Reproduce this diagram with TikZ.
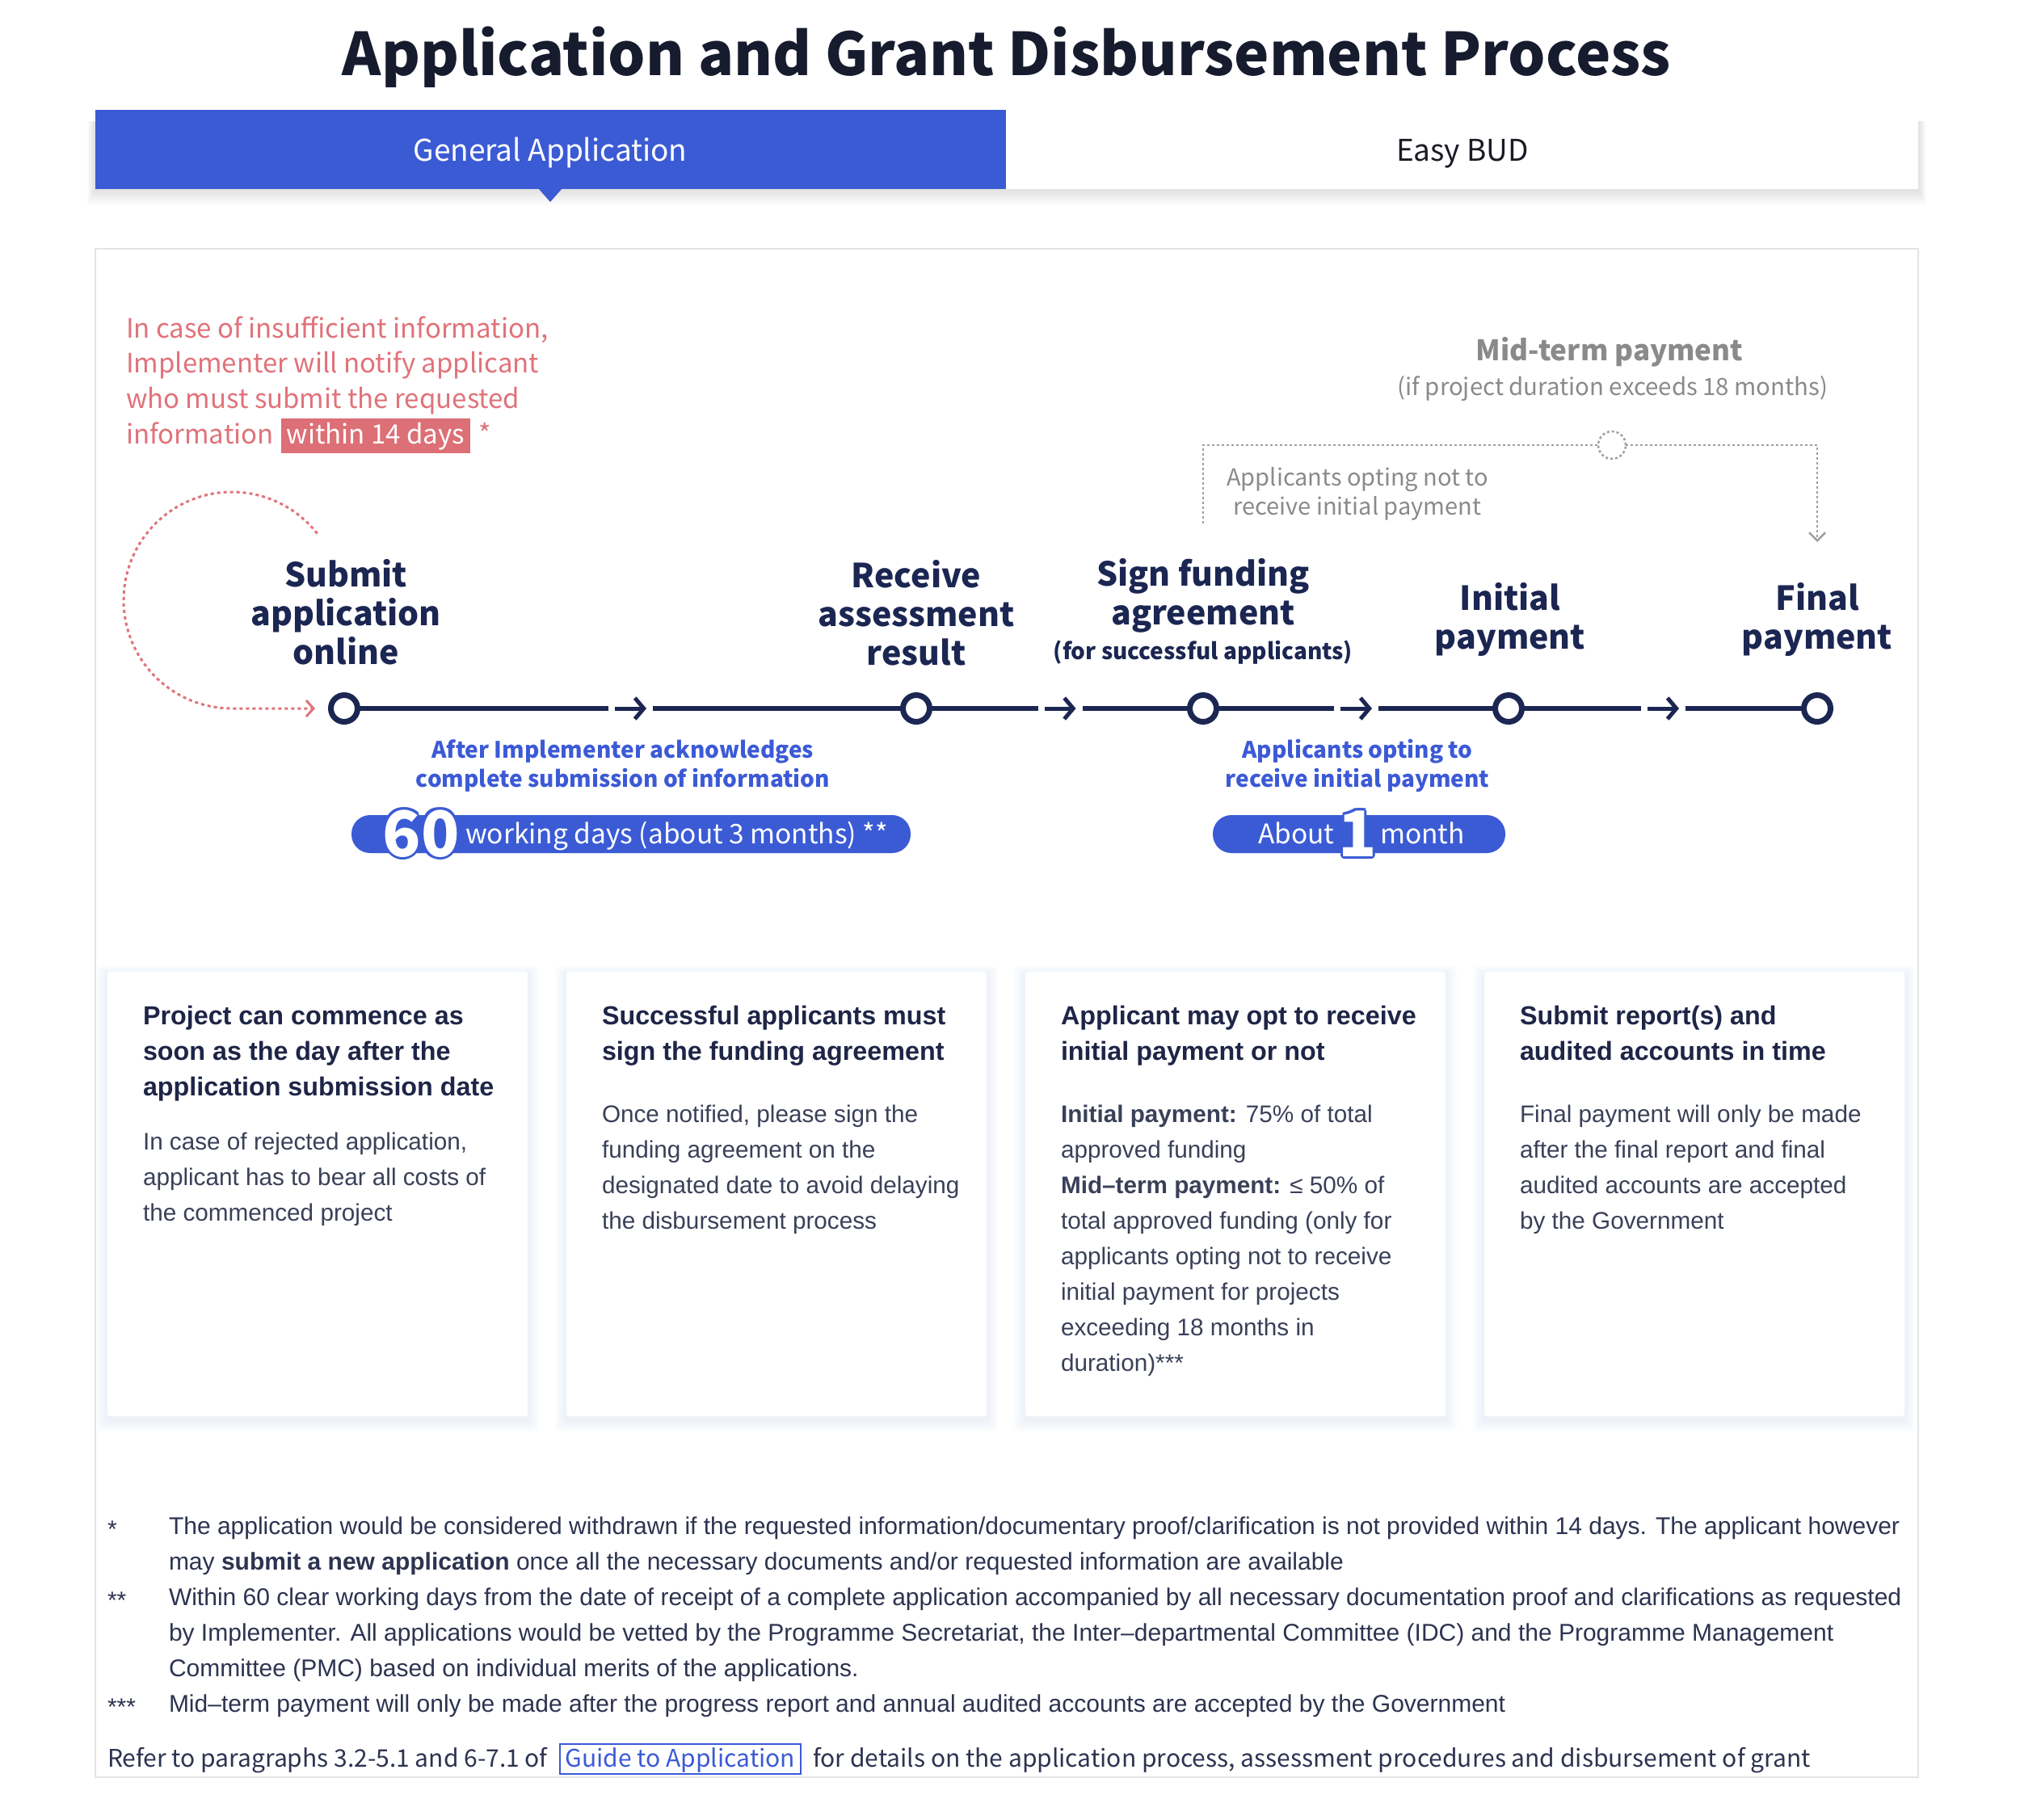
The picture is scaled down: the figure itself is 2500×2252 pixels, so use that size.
\documentclass[tikz,border=0pt]{standalone}
\usepackage{fontspec}
\setmainfont{Liberation Sans}
\newfontfamily\src{Noto Sans CJK SC}
\usetikzlibrary{arrows.meta,calc}
\definecolor{tabblue}{HTML}{3B5BD5}
\definecolor{lblblue}{HTML}{3C5AD6}
\definecolor{navy}{HTML}{1B2652}
\definecolor{titlec}{HTML}{171B2E}
\definecolor{redc}{HTML}{E0737A}
\definecolor{redbox}{HTML}{DD6F76}
\definecolor{grayt}{HTML}{8A8A8A}
\definecolor{grayline}{HTML}{9E9E9E}
\definecolor{cardnavy}{HTML}{1E2547}
\definecolor{cardtext}{HTML}{3A4058}
\definecolor{footc}{HTML}{2D3350}
\definecolor{panelb}{HTML}{E4E4E4}
\definecolor{shadowc}{HTML}{B9C1E4}
\definecolor{easyc}{HTML}{1B1B25}
\newcommand\halo[2]{%
\rlap{\textcolor{#1}{\kern-3pt#2}}%
\rlap{\textcolor{#1}{\kern3pt#2}}%
\rlap{\textcolor{#1}{\raisebox{3pt}{#2}}}%
\rlap{\textcolor{#1}{\raisebox{-3pt}{#2}}}%
\rlap{\textcolor{#1}{\kern-2.1pt\raisebox{2.1pt}{#2}}}%
\rlap{\textcolor{#1}{\kern2.1pt\raisebox{2.1pt}{#2}}}%
\rlap{\textcolor{#1}{\kern-2.1pt\raisebox{-2.1pt}{#2}}}%
\rlap{\textcolor{#1}{\kern2.1pt\raisebox{-2.1pt}{#2}}}%
#2}
\begin{document}
\begin{tikzpicture}[x=1pt,y=-1pt,
  every node/.style={inner sep=0pt,outer sep=0pt},
  ttl/.style={font=\src\bfseries\fontsize{73}{88}\selectfont,text=titlec,anchor=base},
  tabtxt/.style={font=\src\fontsize{37}{44}\selectfont,anchor=base},
  redtxt/.style={font=\src\fontsize{33}{40}\selectfont,text=redc,anchor=base west},
  stepname/.style={font=\src\bfseries\fontsize{41}{50}\selectfont,text=navy,anchor=base},
  stepsub/.style={font=\src\bfseries\fontsize{28}{34}\selectfont,text=navy,anchor=base},
  bluelbl/.style={font=\src\bfseries\fontsize{28}{34}\selectfont,text=lblblue,anchor=base},
  pilltxt/.style={font=\src\fontsize{33.5}{40}\selectfont,text=white,anchor=base west},
  bignum/.style={font=\src\bfseries\fontsize{78}{80}\selectfont,text=white,anchor=base},
  midtitle/.style={font=\src\bfseries\fontsize{35}{42}\selectfont,text=grayt,anchor=base},
  midsub/.style={font=\src\fontsize{29.4}{36}\selectfont,text=grayt,anchor=base},
  cardttl/.style={font=\fontsize{32.3}{38}\selectfont\bfseries,text=cardnavy,anchor=base west},
  cardbody/.style={font=\fontsize{29.7}{35}\selectfont,text=cardtext,anchor=base west},
  foottxt/.style={font=\fontsize{30}{36}\selectfont,text=footc,anchor=base west},
  reftxt/.style={font=\src\fontsize{30}{36}\selectfont,text=footc,anchor=base west},
  stepdot/.style={circle,draw=navy,line width=7pt,fill=white,minimum size=33pt},
  tl/.style={draw=navy,line width=6pt},
  tlarr/.style={draw=navy,line width=5pt,-{Straight Barb[length=11pt,width=26pt]}},
  reddot/.style={draw=redc,line width=3pt,dash pattern=on 4pt off 4pt},
  graydot/.style={draw=grayline,line width=2.5pt,dash pattern=on 3pt off 3pt}
]
\path[use as bounding box,fill=white] (0,0) rectangle (2500,2252);

% title
\node[ttl] (title) at (1246,93) {Application and Grant Disbursement Process};

% tab bar
\foreach \k in {1,...,10} \fill[black,opacity=0.012] (118-\k,150) rectangle (2374+\k,234+2*\k);
\fill[white] (118,136) rectangle (2374,234);
\fill[tabblue] (118,136) rectangle (1245,234);
\fill[tabblue] (666,233) -- (696,233) -- (681,250) -- cycle;
\node[tabtxt,text=white] (tabga) at (681,199) {General Application};
\node[tabtxt,text=easyc] (tabeb) at (1810,199) {Easy BUD};

% panel
\draw[panelb,line width=2pt,fill=white] (118,308) rectangle (2374,2200);

% red note
\node[redtxt] (r1) at (156,418) {In case of insufficient information,};
\node[redtxt] (r2) at (156,461) {Implementer will notify applicant};
\node[redtxt] (r3) at (156,505) {who must submit the requested};
\node[redtxt] (r4a) at (156,549) {information};
\node[redtxt,text=white,fill=redbox,inner xsep=7pt,text height=31pt,text depth=12pt] (r4b) at ([xshift=9pt]r4a.base east) {within 14 days};
\node[redtxt] (r4c) at ([xshift=11pt]r4b.base east) {*};

% timeline
\foreach \n/\x in {c1/426,c2/1134,c3/1489,c4/1867,c5/2249} \node[stepdot] (\n) at (\x,877) {};
\foreach \a/\b/\m in {c1/c2/m1,c2/c3/m2,c3/c4/m3,c4/c5/m4}{
  \coordinate (\m) at ($(\a)!0.5!(\b)$);
  \draw[tl] (\a) -- ([xshift=-27pt]\m);
  \draw[tlarr] ([xshift=-19pt]\m) -- ([xshift=20pt]\m);
  \draw[tl] ([xshift=28pt]\m) -- (\b);
}

% red loop
\coordinate (redend) at (390,877);
\draw[reddot,-{Straight Barb[length=9pt,width=20pt]}] plot[smooth,domain=0:232,samples=60] ({287+134*cos(-38-\x)},{743+134*sin(-38-\x)}) -- (redend);

% step labels
\node[stepname] (s1a) at (428,726) {Submit};
\node[stepname] (s1b) at (428,774) {application};
\node[stepname] (s1c) at (428,822) {online};
\node[stepname] (s2a) at (1134,727) {Receive};
\node[stepname] (s2b) at (1134,775) {assessment};
\node[stepname] (s2c) at (1134,823) {result};
\node[stepname] (s3a) at (1489,725) {Sign funding};
\node[stepname] (s3b) at (1489,773) {agreement};
\node[stepsub] (s3c) at (1489,816) {(for successful applicants)};
\node[stepname] (s4a) at (1869,755) {Initial};
\node[stepname] (s4b) at (1869,803) {payment};
\node[stepname] (s5a) at (2249,755) {Final};
\node[stepname] (s5b) at (2249,803) {payment};

% blue labels
\node[bluelbl] (b1a) at (771,938) {After Implementer acknowledges};
\node[bluelbl] (b1b) at (771,974) {complete submission of information};
\node[bluelbl] (b2a) at (1680,938) {Applicants opting to};
\node[bluelbl] (b2b) at (1680,974) {receive initial payment};

% pills
\fill[tabblue,rounded corners=23pt] (435,1009) rectangle (1127,1056);
\fill[tabblue,rounded corners=23pt] (1501,1009) rectangle (1863,1056);
\node[bignum] (n60) at (521,1060) {\halo{tabblue}{60}};
\node[pilltxt] (p1t) at (576,1044) {working days (about 3 months) **};
\node[pilltxt] (p2a) at (1557,1044) {About};
\node[bignum] (n1) at (1680,1060) {\halo{tabblue}{1}};
\node[pilltxt] (p2b) at (1708,1044) {month};

% mid-term
\node[midtitle] (mt) at (1992,446) {Mid-term payment};
\node[midsub] (ms) at (1996,489) {(if project duration exceeds 18 months)};
\node[midsub,font=\src\fontsize{29}{35}\selectfont] (na1) at (1680,601) {Applicants opting not to};
\node[midsub,font=\src\fontsize{29}{35}\selectfont] (na2) at (1680,637) {receive initial payment};
\node[circle,draw=grayline,line width=2.5pt,dash pattern=on 3pt off 3pt,minimum size=34pt] (mc) at (1995,551) {};
\coordinate (bl) at (1489,648);
\coordinate (br) at (2249,671);
\draw[graydot] (bl) |- (mc.west);
\draw[graydot,-{Straight Barb[length=10pt,width=20pt]}] (mc.east) -| (br);

% cards
\foreach \cx in {133,701,1269,1837}{
  \foreach \k in {1,...,7} \fill[shadowc,opacity=0.03,rounded corners=4pt] (\cx-2*\k,1203-1.5*\k+3) rectangle (\cx+520+2*\k,1753+2*\k+5);
  \fill[white,rounded corners=3pt] (\cx,1203) rectangle (\cx+520,1753);
}
\foreach \t [count=\i] in {Project can commence as,soon as the day after the,application submission date}
  \node[cardttl] (k1t\i) at (177,1224+44*\i) {\t};
\foreach \t [count=\i] in {{In case of rejected application,},applicant has to bear all costs of,the commenced project}
  \node[cardbody] (k1b\i) at (177,1379+44*\i) {\t};
\foreach \t [count=\i] in {Successful applicants must,sign the funding agreement}
  \node[cardttl] (k2t\i) at (745,1224+44*\i) {\t};
\foreach \t [count=\i] in {{Once notified, please sign the},funding agreement on the,designated date to avoid delaying,the disbursement process}
  \node[cardbody] (k2b\i) at (745,1345+44*\i) {\t};
\foreach \t [count=\i] in {Applicant may opt to receive,initial payment or not}
  \node[cardttl] (k3t\i) at (1313,1224+44*\i) {\t};
\foreach \t [count=\i] in {{\textbf{Initial payment:} 75\% of total},approved funding,{\textbf{Mid–term payment:} ≤ 50\% of},total approved funding (only for,applicants opting not to receive,initial payment for projects,exceeding 18 months in,duration)***}
  \node[cardbody] (k3b\i) at (1313,1345+44*\i) {\t};
\foreach \t [count=\i] in {Submit report(s) and,audited accounts in time}
  \node[cardttl] (k4t\i) at (1881,1224+44*\i) {\t};
\foreach \t [count=\i] in {Final payment will only be made,after the final report and final,audited accounts are accepted,by the Government}
  \node[cardbody] (k4b\i) at (1881,1345+44*\i) {\t};

% footnotes
\node[foottxt] (st1) at (133,1903) {*};
\node[foottxt] (st2) at (133,1991) {**};
\node[foottxt] (st3) at (133,2123) {***};
\foreach \t [count=\i] in {{The application would be considered withdrawn if the requested information/documentary proof/clarification is not provided within 14 days. The applicant however},{may \textbf{submit a new application} once all the necessary documents and/or requested information are available},{Within 60 clear working days from the date of receipt of a complete application accompanied by all necessary documentation proof and clarifications as requested},{by Implementer. All applications would be vetted by the Programme Secretariat, the Inter–departmental Committee (IDC) and the Programme Management},{Committee (PMC) based on individual merits of the applications.},{Mid–term payment will only be made after the progress report and annual audited accounts are accepted by the Government}}
  \node[foottxt] (fn\i) at (209,1855+44*\i) {\t};

% reference line
\node[reftxt] (ref1) at (133,2187) {Refer to paragraphs 3.2-5.1 and 6-7.1 of};
\node[reftxt,text=lblblue,draw=lblblue,line width=2pt,inner xsep=7pt,text height=28pt,text depth=9pt] (guide) at ([xshift=15pt]ref1.base east) {Guide to Application};
\node[reftxt] (ref2) at ([xshift=15pt]guide.base east) {for details on the application process, assessment procedures and disbursement of grant};
\end{tikzpicture}
\end{document}
